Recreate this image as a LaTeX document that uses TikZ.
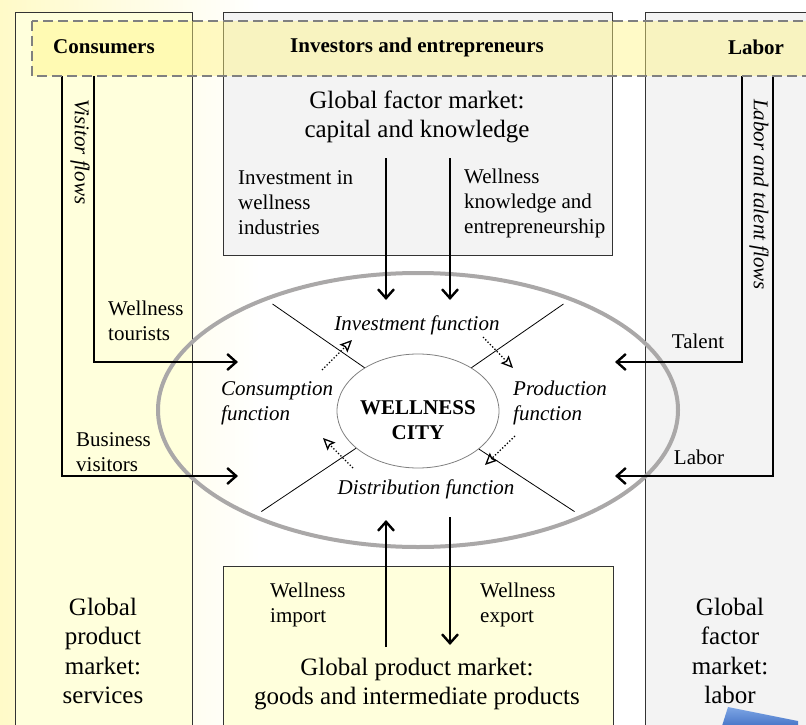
\documentclass[tikz,border=0pt]{standalone}
\usepackage{fontspec}
\setmainfont{Liberation Serif}
\usetikzlibrary{arrows.meta,shapes.geometric}
\definecolor{paleyellow}{RGB}{255,255,220}
\definecolor{paperyellow}{RGB}{255,250,200}
\definecolor{palegray}{RGB}{243,243,243}
\definecolor{bandyellow}{RGB}{255,245,130}
\definecolor{ringgray}{RGB}{170,168,168}
\definecolor{chiptop}{RGB}{125,165,228}
\definecolor{chipbottom}{RGB}{72,118,200}
\tikzset{
	colbox/.style={draw=black!80, line width=0.9pt},
	lab/.style={font=\fontsize{21}{25}\selectfont, inner sep=0pt, align=left},
	market/.style={font=\fontsize{25}{29.5}\selectfont, inner sep=0pt, align=center},
	head/.style={font=\fontsize{21}{25}\selectfont\bfseries, inner sep=0pt},
	func/.style={font=\fontsize{21}{25}\selectfont\itshape, inner sep=0pt, align=left},
	flow/.style={line width=2.4pt, -{Straight Barb[length=9pt,width=16pt]}},
	turn/.style={line width=1.3pt, dotted, -{Stealth[open,length=12pt,width=11pt,inset=2pt]}},
	divider/.style={line width=0.8pt, shorten >=11pt}
}

\begin{document}
\begin{tikzpicture}[x=1pt, y=-1pt]
	%%%%% START %%%%%
	\useasboundingbox (0,0) rectangle (806,725);
	\clip (0,0) rectangle (806,725);
	
	\shade[left color=paperyellow, right color=white] (0,0) rectangle (260,725);
	
	% columns and market boxes
	\draw[colbox, fill=paleyellow] (15,12) rectangle (192,740);
	\draw[colbox, fill=palegray] (645,12) rectangle (820,740);
	\draw[colbox, fill=palegray] (223,12) rectangle (612,255);
	\draw[colbox, fill=paleyellow] (223,566) rectangle (613,740);
	
	% wellness city
	\node[draw=ringgray, line width=4pt, ellipse, minimum width=520pt, minimum height=274pt, inner sep=0pt] (ring) at (418,410) {};
	\node[draw=black!50, line width=0.8pt, ellipse, minimum width=162pt, minimum height=114pt, inner sep=0pt] (city) at (418,411) {};
	\node[head, align=center] (citylabel) at (418,420) {WELLNESS\\CITY};
	
	\draw[divider] (city.141) -- (ring.144);
	\draw[divider] (city.39) -- (ring.36);
	\draw[divider] (city.211) -- (ring.213);
	\draw[divider] (city.328) -- (ring.327);
	
	\node[func] (invest) at (417,325) {Investment function};
	\node[func, anchor=west] (consume) at (221,403) {Consumption\\function};
	\node[func, anchor=west] (produce) at (513,403) {Production\\function};
	\node[func] (distribute) at (426,489) {Distribution function};
	
	\coordinate (ci) at (322,370); \coordinate (ci end) at (352,340);
	\coordinate (ip) at (483,337); \coordinate (ip end) at (513,368);
	\coordinate (pd) at (515,436); \coordinate (pd end) at (485,465);
	\coordinate (dc) at (353,468); \coordinate (dc end) at (323,438);
	\draw[turn] (ci) -- (ci end);
	\draw[turn] (ip) -- (ip end);
	\draw[turn] (pd) -- (pd end);
	\draw[turn] (dc) -- (dc end);
	
	% flows in from the sides
	\coordinate (tour) at (94,76); \coordinate (tour in) at (238,362);
	\coordinate (bus) at (62,76); \coordinate (bus in) at (238,476);
	\coordinate (tal) at (742,76); \coordinate (tal in) at (615,362);
	\coordinate (lab) at (773,76); \coordinate (lab in) at (615,476);
	\draw[flow] (tour) |- (tour in);
	\draw[flow] (bus) |- (bus in);
	\draw[flow] (tal) |- (tal in);
	\draw[flow] (lab) |- (lab in);
	
	\node[func, rotate=-90, anchor=west] (visflows) at (80,99) {Visitor flows};
	\node[func, rotate=-90, anchor=west] (talflows) at (759,99) {Labor and talent flows};
	\node[lab, anchor=west] (tourlabel) at (108,321) {Wellness\\tourists};
	\node[lab, anchor=west] (buslabel) at (76,452) {Business\\visitors};
	\node[lab] (tallabel) at (698,341) {Talent};
	\node[lab] (lablabel) at (699,457) {Labor};
	
	% flows from top and bottom
	\coordinate (inv) at (386,158); \coordinate (inv in) at (386,300);
	\coordinate (know) at (450,158); \coordinate (know in) at (450,300);
	\coordinate (imp) at (386,647); \coordinate (imp in) at (386,520);
	\coordinate (exp) at (450,517); \coordinate (exp out) at (450,645);
	\draw[flow] (inv) -- (inv in);
	\draw[flow] (know) -- (know in);
	\draw[flow] (imp) -- (imp in);
	\draw[flow] (exp) -- (exp out);
	
	\node[market] (capital) at (417,117) {Global factor market:\\capital and knowledge};
	\node[lab, anchor=west] (invlabel) at (238,203) {Investment in\\wellness\\industries};
	\node[lab, anchor=west] (knowlabel) at (464,203) {Wellness\\knowledge and\\entrepreneurship};
	\node[lab, anchor=west] (implabel) at (270,605) {Wellness\\import};
	\node[lab, anchor=west] (explabel) at (480,605) {Wellness\\export};
	\node[market] (goods) at (417,684) {Global product market:\\goods and intermediate products};
	\node[market] (services) at (103,651) {Global\\product\\market:\\services};
	\node[market] (factor) at (730,651) {Global\\factor\\market:\\labor};
	
	% actor band
	\fill[bandyellow, fill opacity=0.45] (32,21) rectangle (820,76);
	\draw[gray, line width=1.2pt, dash pattern=on 10pt off 5pt] (32,21) rectangle (820,76);
	\node[head] (consumers) at (104,47) {Consumers};
	\node[head] (investors) at (417,47) {Investors and entrepreneurs};
	\node[head] (labor) at (756,47) {Labor};
	
	\shade[top color=chiptop, bottom color=chipbottom] (728,707) -- (798,721) -- (798,726) -- (722,726) -- cycle;
	%%%%% END %%%%%
\end{tikzpicture}
\end{document}
